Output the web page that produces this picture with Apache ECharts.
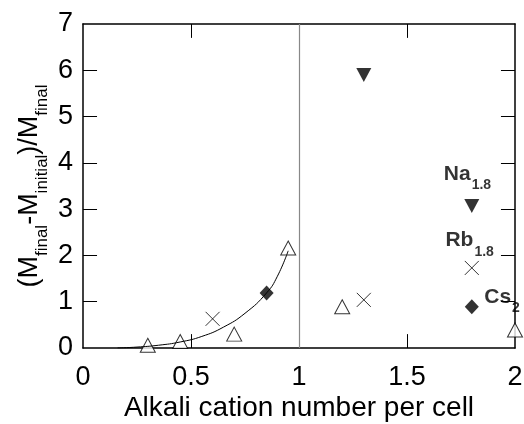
<!DOCTYPE html>
<html>
<head>
<meta charset="utf-8">
<script src="https://cdn.jsdelivr.net/npm/echarts@6/dist/echarts.min.js"></script>
<style>
  html, body { margin: 0; padding: 0; background: #fff; }
  #chart { width: 524px; height: 424px; }
</style>
</head>
<body>
<div id="chart"></div>
<script>
// open triangles
const triX = [0.3, 0.45, 0.7, 0.95, 1.2, 2.0];
const triY = [0.06, 0.14, 0.30, 2.16, 0.89, 0.39];
// crosses
const crossX = [0.6, 1.3, 1.8];
const crossY = [0.63, 1.04, 1.73];
// filled diamonds
const diaX = [0.85, 1.8];
const diaY = [1.19, 0.89];
// filled down triangles
const downX = [1.3, 1.8];
const downY = [5.9, 3.07];
// fitted curve
const curveX = [0.16, 0.25, 0.35, 0.45, 0.55, 0.65, 0.75, 0.85, 0.9, 0.95];
const curveY = [0, 0.02, 0.06, 0.13, 0.25, 0.45, 0.75, 1.19, 1.55, 2.1];
// annotations
const noteText = ['Na', 'Rb', 'Cs'];
const noteSub = ['1.8', '1.8', '2'];
const noteX = [1.78, 1.79, 1.94];
const noteY = [3.76, 2.33, 1.1];

// tick labels and inner tick marks
const xTicks = [0, 0.5, 1, 1.5, 2];
const xTickMarks = [0.5, 1.5];
const yTickMarks = [1, 2, 3, 4, 5, 6];

const X_MIN = 0, X_MAX = 2, Y_MIN = 0, Y_MAX = 7;
// tick length in axis units (about 14px each way)
const X_TICK = 0.065, Y_TICK = 0.3;

function pairs(xs, ys) {
    return xs.map((x, i) => [x, ys[i]]);
}

const FONT = 'Liberation Sans';
const chart = echarts.init(document.getElementById('chart'));

function axisLine() {
    return { show: true, onZero: false, lineStyle: { color: '#000', width: 1.5 } };
}

const tickLine = { color: '#000', width: 1, type: 'solid' };
const marks = [[{ xAxis: 1 }, { xAxis: 1 }]].slice(0, 0);
xTickMarks.forEach(v => {
    marks.push([{ coord: [v, Y_MIN], lineStyle: tickLine }, { coord: [v, Y_MIN + Y_TICK] }]);
    marks.push([{ coord: [v, Y_MAX], lineStyle: tickLine }, { coord: [v, Y_MAX - Y_TICK] }]);
});
yTickMarks.forEach(v => {
    marks.push([{ coord: [X_MIN, v], lineStyle: tickLine }, { coord: [X_MIN + X_TICK, v] }]);
    marks.push([{ coord: [X_MAX, v], lineStyle: tickLine }, { coord: [X_MAX - X_TICK, v] }]);
});
marks.push({ xAxis: 1, lineStyle: { color: '#888', width: 1.2, type: 'solid' } });

chart.setOption({
    animation: false,
    grid: { left: 83, right: 9, top: 24, bottom: 76, outerBoundsMode: 'none' },
    xAxis: [
        {
            type: 'value', min: X_MIN, max: X_MAX, interval: 0.5,
            axisLine: axisLine(), axisTick: { show: false }, splitLine: { show: false },
            axisLabel: {
                color: '#000', fontFamily: FONT, fontSize: 27, margin: 16,
                formatter: v => xTicks.indexOf(v) >= 0 ? String(v) : ''
            },
            name: 'Alkali cation number per cell', nameLocation: 'middle', nameGap: 46,
            nameMoveOverlap: false,
            nameTextStyle: { color: '#000', fontFamily: FONT, fontSize: 28 }
        },
        {
            type: 'value', min: X_MIN, max: X_MAX, interval: 0.5,
            axisLine: axisLine(), axisTick: { show: false }, axisLabel: { show: false }, splitLine: { show: false }
        }
    ],
    yAxis: [
        {
            type: 'value', min: Y_MIN, max: Y_MAX, interval: 1,
            axisLine: axisLine(), axisTick: { show: false }, splitLine: { show: false },
            axisLabel: { color: '#000', fontFamily: FONT, fontSize: 27, margin: 10 },
            name: '{m|(M}{s|final}{m|-M}{s|initial}{m|)/M}{s|final}',
            nameLocation: 'middle', nameGap: 40, nameRotate: 90, nameMoveOverlap: false,
            nameTextStyle: {
                rich: {
                    m: { color: '#000', fontFamily: FONT, fontSize: 27, lineHeight: 27, verticalAlign: 'top' },
                    s: { color: '#000', fontFamily: FONT, fontSize: 17, lineHeight: 17, padding: [18, 0, 0, 0], verticalAlign: 'top' }
                }
            }
        },
        {
            type: 'value', min: Y_MIN, max: Y_MAX, interval: 1,
            axisLine: axisLine(), axisTick: { show: false }, axisLabel: { show: false }, splitLine: { show: false }
        }
    ],
    series: [
        {
            type: 'line', data: pairs(curveX, curveY), smooth: 0.5,
            showSymbol: false, symbol: 'none',
            lineStyle: { color: '#000', width: 1 },
            markLine: {
                silent: true, symbol: 'none', label: { show: false },
                lineStyle: { color: '#000', width: 1, type: 'solid' },
                data: marks
            }
        },
        {
            type: 'scatter', data: pairs(triX, triY), symbol: 'triangle', symbolSize: [15, 14], clip: false,
            itemStyle: { color: '#fff', borderColor: '#000', borderWidth: 1 }
        },
        {
            type: 'scatter', data: pairs(crossX, crossY), symbol: 'path://M0,0L10,10M10,0L0,10', symbolSize: 14, clip: false,
            itemStyle: { color: 'none', borderColor: '#000', borderWidth: 1 }
        },
        {
            type: 'scatter', data: pairs(diaX, diaY), symbol: 'diamond', symbolSize: [14, 15], clip: false,
            itemStyle: { color: '#000' }
        },
        {
            type: 'scatter', data: pairs(downX, downY), symbol: 'triangle', symbolRotate: 180, symbolSize: [15, 14], clip: false,
            itemStyle: { color: '#000' }
        },
        {
            type: 'scatter', symbolSize: 0, clip: false, silent: true,
            data: noteText.map((t, i) => ({ value: [noteX[i], noteY[i]], name: t })),
            label: {
                show: true, position: 'inside',
                formatter: p => '{m|' + noteText[p.dataIndex] + '}{s|' + noteSub[p.dataIndex] + '}',
                rich: {
                    m: { color: '#000', fontFamily: FONT, fontWeight: 'bold', fontSize: 21, lineHeight: 21, verticalAlign: 'top' },
                    s: { color: '#000', fontFamily: FONT, fontWeight: 'bold', fontSize: 14, lineHeight: 14, padding: [15, 0, 0, 1], verticalAlign: 'top' }
                }
            }
        }
    ]
});
</script>
</body>
</html>
